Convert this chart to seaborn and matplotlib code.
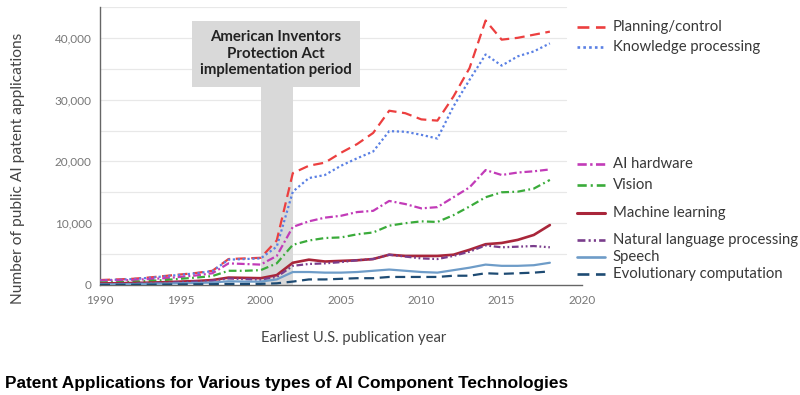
import numpy as np
import pandas as pd
import seaborn as sns
import matplotlib
matplotlib.use("Agg")
import matplotlib.pyplot as plt
from matplotlib.ticker import MultipleLocator, FuncFormatter
from matplotlib.lines import Line2D
from matplotlib.patches import Rectangle

years = list(range(1990, 2019))

planning_control = [800, 900, 1000, 1200, 1450, 1700, 1950, 2300, 4200, 4300, 4400, 7200, 18100, 19300, 19800,
                    21400, 22800, 24600, 28200, 27800, 26800, 26600, 30500, 35100, 42800, 39700, 40000, 40500, 41000]
knowledge_processing = [750, 850, 950, 1150, 1400, 1650, 1900, 2250, 4100, 4200, 4300, 6200, 15100, 17300, 17800,
                        19300, 20500, 21600, 24900, 24800, 24300, 23700, 28900, 33200, 37300, 35500, 37000, 37800, 39100]
ai_hardware = [700, 750, 800, 950, 1100, 1300, 1550, 1900, 3500, 3400, 3300, 4700, 9400, 10300, 10900,
               11200, 11800, 12000, 13600, 13100, 12400, 12600, 14200, 15800, 18600, 17800, 18200, 18400, 18700]
vision = [400, 450, 500, 650, 800, 1000, 1200, 1450, 2300, 2300, 2400, 3500, 6500, 7200, 7600,
          7700, 8200, 8500, 9600, 10000, 10300, 10200, 11300, 12700, 14200, 15000, 15100, 15600, 17000]
machine_learning = [250, 280, 320, 380, 450, 550, 650, 800, 1200, 1150, 1100, 1600, 3600, 4100, 3800,
                    3900, 4000, 4200, 4900, 4700, 4700, 4700, 4900, 5700, 6600, 6800, 7300, 8100, 9700]
nlp = [150, 180, 220, 280, 350, 450, 550, 700, 1050, 950, 850, 1300, 3100, 3400, 3500,
       3700, 4000, 4200, 4900, 4600, 4300, 4200, 4700, 5400, 6400, 6100, 6200, 6300, 6100]
speech = [100, 120, 150, 190, 230, 280, 330, 400, 600, 550, 550, 900, 2100, 2100, 2000,
          2000, 2100, 2300, 2500, 2300, 2100, 2000, 2400, 2800, 3300, 3100, 3100, 3200, 3600]
evolutionary = [30, 40, 50, 60, 70, 90, 110, 130, 180, 170, 180, 270, 550, 900, 900,
                1000, 1100, 1100, 1300, 1300, 1300, 1300, 1500, 1500, 1900, 1800, 1900, 2000, 2200]

series_names = ["Planning/control", "Knowledge processing", "AI hardware", "Vision",
                "Machine learning", "Natural language processing", "Speech", "Evolutionary computation"]
series_values = [planning_control, knowledge_processing, ai_hardware, vision,
                 machine_learning, nlp, speech, evolutionary]

# styling
colors = ["#ec3f3f", "#5a80e4", "#c23bb8", "#3aab3a", "#a9263a", "#7a3d8c", "#6e9cc8", "#1e4b73"]
dash_styles = [(0, (4.5, 2.5)), (0, (1, 1.2)), (0, (3.5, 1.3, 0.9, 1.3)), (0, (3.5, 1.5, 0.8, 1.5)),
               "-", (0, (3, 1.2, 0.8, 1.2, 0.8, 1.2)), "-", (0, (4.5, 2.5))]
widths = [1.6, 1.6, 1.6, 1.6, 1.9, 1.6, 1.6, 1.6]
legend_y = [41800, 38550, 19600, 16200, 11660, 7290, 4540, 1780]

sns.set_style("white")
plt.rcParams["font.family"] = ["Lato", "DejaVu Sans"]

fig = plt.figure(figsize=(8, 3.95), dpi=100)
ax = fig.add_axes([0.125, 0.2785, 0.6025, 0.7040])

df = pd.DataFrame({"year": years})
for name, vals in zip(series_names, series_values):
    df[name] = vals
long = df.melt(id_vars="year", var_name="series", value_name="count")

# gray shaded period and box (drawn beneath lines)
ax.add_patch(Rectangle((2000, 0), 2, 32000, facecolor="#d9d9d9", edgecolor="none", zorder=1))
ax.add_patch(Rectangle((1995.7, 32000), 10.5, 10750, facecolor="#d9d9d9", edgecolor="none", zorder=1))
ax.text(2000.95, 37450, "American Inventors\nProtection Act\nimplementation period",
        ha="center", va="center", fontsize=10.8, fontweight="bold", color="#222222",
        linespacing=1.22, zorder=2)

for name, c, ls, lw in zip(series_names, colors, dash_styles, widths):
    sub = long[long["series"] == name]
    sns.lineplot(data=sub, x="year", y="count", color=c, linestyle=ls, linewidth=lw, ax=ax, zorder=3)

ax.set_xlim(1990, 2020)
ax.set_ylim(0, 45000)

# grid
for gy in range(5000, 45001, 5000):
    ax.plot([1990, 2019], [gy, gy], color="#e8e8e8", lw=0.9, zorder=0)

ax.xaxis.set_major_locator(MultipleLocator(5))
ax.xaxis.set_minor_locator(MultipleLocator(1))
ax.yaxis.set_major_locator(MultipleLocator(10000))
ax.yaxis.set_major_formatter(FuncFormatter(lambda v, p: f"{int(v):,}"))
ax.tick_params(axis="both", which="major", direction="out", length=4, width=0.8,
               color="#555555", labelcolor="#777777", labelsize=8.5, pad=2)
ax.tick_params(axis="x", which="minor", direction="out", length=3, width=0.7, color="#555555")
ax.tick_params(axis="x", which="major", length=5)

for s in ["top", "right"]:
    ax.spines[s].set_visible(False)
for s in ["left", "bottom"]:
    ax.spines[s].set_color("#666666")
    ax.spines[s].set_linewidth(1.0)

ax.set_xlabel("Earliest U.S. publication year", fontsize=10.6, color="#444444")
ax.set_ylabel("Number of public AI patent applications", fontsize=11.2, color="#444444")
ax.xaxis.set_label_coords(0.527, -0.165)
ax.yaxis.set_label_coords(-0.156, 0.42)

# legend as labels by the line ends
for name, c, ls, lw, ly in zip(series_names, colors, dash_styles, widths, legend_y):
    ax.add_line(Line2D([2019.7, 2021.45], [ly, ly], color=c, linestyle=ls, linewidth=lw + 0.3, clip_on=False))
    ax.text(2021.9, ly, name, fontsize=10.75, color="#383838", va="center", ha="left", clip_on=False)

fig.text(0.006, 0.030, "Patent Applications for Various types of AI Component Technologies",
         fontsize=12.4, fontweight="bold", family="Liberation Sans", color="black", ha="left", va="center")

fig.savefig("out.png", dpi=100)
